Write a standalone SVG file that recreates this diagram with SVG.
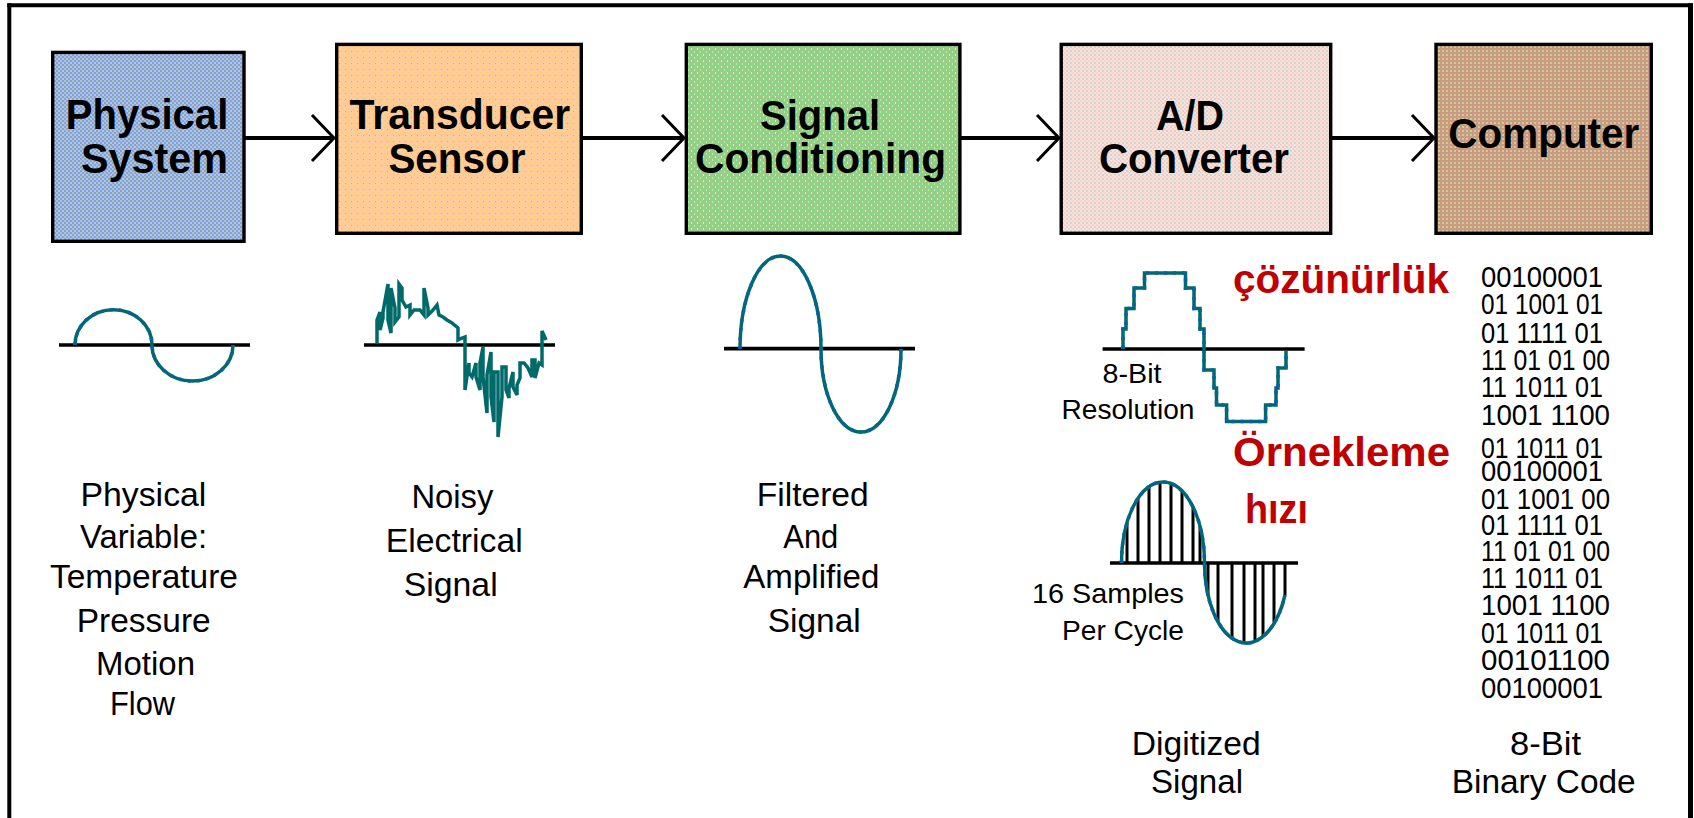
<svg xmlns="http://www.w3.org/2000/svg" width="1694" height="818" viewBox="0 0 1694 818">
<style>
.box{stroke:#000;stroke-width:3.4}
.bl{font-family:"Liberation Sans",Arial,sans-serif;font-weight:bold;font-size:43px;fill:#000}
.lb{font-family:"Liberation Sans",Arial,sans-serif;font-size:34px;fill:#000}
.sm{font-family:"Liberation Sans",Arial,sans-serif;font-size:28px;fill:#000}
.bin{font-family:"Liberation Sans",Arial,sans-serif;font-size:30px;fill:#000}
.red{font-family:"Liberation Sans",Arial,sans-serif;font-weight:bold;font-size:40px;fill:#c00000}
.ax{stroke:#000;stroke-width:3.7;fill:none}
.wave{fill:none;stroke:#006a6a;stroke-width:3.5}
.wave2{fill:none;stroke:#0a60a8;stroke-width:3.5;stroke-dasharray:3 6}
.samp{stroke:#000;stroke-width:3}
.conn{stroke:#000;stroke-width:4;fill:none}
.chev{stroke:#000;stroke-width:3;fill:none}
.frame{stroke:#000;fill:none}
</style>
<defs>
<pattern id="pPhys" width="4" height="4" patternUnits="userSpaceOnUse">
<rect width="4" height="4" fill="#9999cc"/><rect width="2" height="2" fill="#99cccc"/><rect x="2" y="2" width="2" height="2" fill="#99ccff"/>
</pattern>
<pattern id="pTrans" width="6" height="6" patternUnits="userSpaceOnUse">
<rect width="6" height="6" fill="#ffcc99"/><rect x="0" y="0" width="2" height="2" fill="#ffcc77"/><rect x="3" y="3" width="1" height="1" fill="#ff9966"/>
</pattern>
<pattern id="pSig" width="6" height="6" patternUnits="userSpaceOnUse">
<rect width="6" height="6" fill="#99cc88"/><rect x="1" y="0" width="1" height="2" fill="#ccff99"/><rect x="4" y="3" width="1" height="2" fill="#99ff99"/>
</pattern>
<pattern id="pAD" width="4" height="4" patternUnits="userSpaceOnUse">
<rect width="4" height="4" fill="#f2e6dc"/><rect width="2" height="2" fill="#ffcccc"/><rect x="2" y="2" width="2" height="2" fill="#d6d2cc"/>
</pattern>
<pattern id="pComp" width="4" height="4" patternUnits="userSpaceOnUse">
<rect width="4" height="4" fill="#cc9977"/><rect width="2" height="2" fill="#cc9999"/><rect x="2" y="2" width="2" height="2" fill="#cccc99"/>
</pattern>
</defs>
<rect width="1694" height="818" fill="#fff"/>
<g id="frame">
<line class="frame" x1="9.3" y1="3.3" x2="9.3" y2="818" stroke-width="4"/>
<line class="frame" x1="7.3" y1="5.3" x2="1693" y2="5.3" stroke-width="4"/>
<line class="frame" x1="1690.5" y1="3.3" x2="1690.5" y2="818" stroke-width="5"/>
</g>
<g id="connectors">
<line class="conn" x1="245" y1="138" x2="334" y2="138"/>
<polyline class="chev" points="312,115 334,138 312,161"/>
<line class="conn" x1="582" y1="138" x2="684" y2="138"/>
<polyline class="chev" points="662,115 684,138 662,161"/>
<line class="conn" x1="961" y1="138" x2="1059" y2="138"/>
<polyline class="chev" points="1037,115 1059,138 1037,161"/>
<line class="conn" x1="1332" y1="138" x2="1434" y2="138"/>
<polyline class="chev" points="1412,115 1434,138 1412,161"/>
</g>
<g id="node-physical">
<rect class="box" x="52.7" y="52.4" width="191.3" height="188.9" fill="url(#pPhys)"/>
<text class="bl" x="65.7" y="129.3" textLength="162.6" lengthAdjust="spacingAndGlyphs">Physical</text>
<text class="bl" x="81" y="172.7" textLength="147" lengthAdjust="spacingAndGlyphs">System</text>
</g>
<g id="node-transducer">
<rect class="box" x="336.7" y="44.4" width="244.6" height="188.9" fill="url(#pTrans)"/>
<text class="bl" x="349.6" y="129" textLength="220.5" lengthAdjust="spacingAndGlyphs">Transducer</text>
<text class="bl" x="388.4" y="173" textLength="137" lengthAdjust="spacingAndGlyphs">Sensor</text>
</g>
<g id="node-signal">
<rect class="box" x="686.3" y="44.4" width="273.6" height="188.9" fill="url(#pSig)"/>
<text class="bl" x="760" y="130" textLength="120" lengthAdjust="spacingAndGlyphs">Signal</text>
<text class="bl" x="695" y="173" textLength="251" lengthAdjust="spacingAndGlyphs">Conditioning</text>
</g>
<g id="node-ad">
<rect class="box" x="1061.2" y="44.4" width="269.5" height="188.9" fill="url(#pAD)"/>
<text class="bl" x="1156" y="130" textLength="68" lengthAdjust="spacingAndGlyphs">A/D</text>
<text class="bl" x="1099" y="173" textLength="190" lengthAdjust="spacingAndGlyphs">Converter</text>
</g>
<g id="node-computer">
<rect class="box" x="1436" y="44.4" width="215.3" height="188.9" fill="url(#pComp)"/>
<text class="bl" x="1448.3" y="147.7" textLength="191" lengthAdjust="spacingAndGlyphs">Computer</text>
</g>
<g id="wave-physical">
<line class="ax" x1="59" y1="345" x2="250" y2="345"/>
<path class="wave" d="M75,345 A38.5,35.3 0 0 1 152,345 A40.5,36 0 0 0 233,345"/>
<path class="wave2" d="M75,345 A38.5,35.3 0 0 1 152,345 A40.5,36 0 0 0 233,345"/>
<text class="lb" x="80.4" y="506" textLength="126" lengthAdjust="spacingAndGlyphs">Physical</text>
<text class="lb" x="80" y="548" textLength="127" lengthAdjust="spacingAndGlyphs">Variable:</text>
<text class="lb" x="50" y="588" textLength="188" lengthAdjust="spacingAndGlyphs">Temperature</text>
<text class="lb" x="76.7" y="632" textLength="134" lengthAdjust="spacingAndGlyphs">Pressure</text>
<text class="lb" x="96" y="675" textLength="99" lengthAdjust="spacingAndGlyphs">Motion</text>
<text class="lb" x="110" y="715" textLength="65" lengthAdjust="spacingAndGlyphs">Flow</text>
</g>
<g id="wave-noisy">
<line class="ax" x1="364" y1="345" x2="555" y2="345"/>
<path class="wave" stroke-width="3" d="M377,343 L377,320 L380,312 L380,330 L383,318 L383,312 L388,284 L388,320 L391,333 L391,288 L395,308 L395,322 L399,317 L399,284 L402,288 L402,300 L406,307 L410,305 L410,315 L414,310 L420,310 L424,315 L424,288 L428,308 L428,315 L433,310 L437,305 L439,315 L443,317 L447,320 L452,323 L458,328 L458,340 L462,338 L465,337 L465,390 L469,363 L469,373 L472,377 L476,363 L476,377 L480,390 L480,363 L483,347 L483,377 L487,413 L487,375 L491,352 L491,397 L494,422 L494,372 L498,372 L498,437 L502,397 L502,367 L506,367 L506,390 L509,398 L509,388 L513,372 L513,387 L517,395 L517,385 L520,378 L520,363 L524,363 L528,368 L532,377 L532,360 L535,360 L535,378 L539,363 L542,365 L542,331 L546,340"/>
<text class="lb" x="411.4" y="508" textLength="82" lengthAdjust="spacingAndGlyphs">Noisy</text>
<text class="lb" x="385.8" y="552" textLength="137" lengthAdjust="spacingAndGlyphs">Electrical</text>
<text class="lb" x="403.7" y="596" textLength="94" lengthAdjust="spacingAndGlyphs">Signal</text>
</g>
<g id="wave-filtered">
<line class="ax" x1="724" y1="348.7" x2="915" y2="348.7"/>
<path class="wave" d="M740,349 A40.5,93 0 0 1 821,349 A40,83 0 0 0 901,349"/>
<path class="wave2" d="M740,349 A40.5,93 0 0 1 821,349 A40,83 0 0 0 901,349"/>
<text class="lb" x="756.7" y="506" textLength="112" lengthAdjust="spacingAndGlyphs">Filtered</text>
<text class="lb" x="783.3" y="548" textLength="55" lengthAdjust="spacingAndGlyphs">And</text>
<text class="lb" x="743.3" y="588" textLength="136" lengthAdjust="spacingAndGlyphs">Amplified</text>
<text class="lb" x="767.7" y="632" textLength="93" lengthAdjust="spacingAndGlyphs">Signal</text>
</g>
<g id="wave-resolution">
<line class="ax" x1="1102.6" y1="349" x2="1304.6" y2="349"/>
<path class="wave" d="M1123,349 V329 H1126 V308.5 H1134 V288 H1144.5 V273 H1185.5 V288 H1194 V308.5 H1200 V329 H1204 V349 V370 H1214 V388 H1216.5 V405 H1226.6 V421.5 H1265.6 V405 H1276 V388 H1278 V368 H1286 V351"/>
<path class="wave2" d="M1123,349 V329 H1126 V308.5 H1134 V288 H1144.5 V273 H1185.5 V288 H1194 V308.5 H1200 V329 H1204 V349 V370 H1214 V388 H1216.5 V405 H1226.6 V421.5 H1265.6 V405 H1276 V388 H1278 V368 H1286 V351"/>
<text class="sm" x="1102.6" y="382.6" textLength="59" lengthAdjust="spacingAndGlyphs">8-Bit</text>
<text class="sm" x="1061.5" y="418.5" textLength="133" lengthAdjust="spacingAndGlyphs">Resolution</text>
</g>
<g id="wave-sampled">
<g class="samp">
<line x1="1127" y1="563" x2="1127" y2="523"/>
<line x1="1138" y1="563" x2="1138" y2="499"/>
<line x1="1149" y1="563" x2="1149" y2="487"/>
<line x1="1160" y1="563" x2="1160" y2="482"/>
<line x1="1171" y1="563" x2="1171" y2="483"/>
<line x1="1182" y1="563" x2="1182" y2="491"/>
<line x1="1193" y1="563" x2="1193" y2="506"/>
<line x1="1200" y1="563" x2="1200" y2="526"/>
<line x1="1208" y1="563" x2="1208" y2="596"/>
<line x1="1218" y1="563" x2="1218" y2="622"/>
<line x1="1232" y1="563" x2="1232" y2="638"/>
<line x1="1244" y1="563" x2="1244" y2="642"/>
<line x1="1255" y1="563" x2="1255" y2="641"/>
<line x1="1263" y1="563" x2="1263" y2="636"/>
<line x1="1274" y1="563" x2="1274" y2="622"/>
<line x1="1285" y1="563" x2="1285" y2="595"/>
</g>
<line class="ax" x1="1110" y1="563" x2="1298" y2="563"/>
<path class="wave" d="M1121.5,563 A41.5,81 0 0 1 1204.5,563 A42,80 0 0 0 1285,595"/>
<path class="wave2" d="M1121.5,563 A41.5,81 0 0 1 1204.5,563 A42,80 0 0 0 1285,595"/>
<text class="sm" x="1184" y="603" text-anchor="end" textLength="152" lengthAdjust="spacingAndGlyphs">16 Samples</text>
<text class="sm" x="1184" y="640" text-anchor="end" textLength="122" lengthAdjust="spacingAndGlyphs">Per Cycle</text>
<text class="lb" x="1131.7" y="755" textLength="129" lengthAdjust="spacingAndGlyphs">Digitized</text>
<text class="lb" x="1151" y="793" textLength="92" lengthAdjust="spacingAndGlyphs">Signal</text>
</g>
<g id="annotations">
<text class="red" x="1233" y="293" textLength="216" lengthAdjust="spacingAndGlyphs">çözünürlük</text>
<text class="red" x="1233" y="466" textLength="217" lengthAdjust="spacingAndGlyphs">Örnekleme</text>
<text class="red" x="1245" y="523" textLength="63" lengthAdjust="spacingAndGlyphs">hızı</text>
</g>
<g id="binary-code">
<text class="bin">
<tspan x="1481" y="287" textLength="122" lengthAdjust="spacingAndGlyphs">00100001</tspan>
<tspan x="1481" y="314" textLength="122" lengthAdjust="spacingAndGlyphs">01 1001 01</tspan>
<tspan x="1481" y="343" textLength="122" lengthAdjust="spacingAndGlyphs">01 1111 01</tspan>
<tspan x="1481" y="370" textLength="129" lengthAdjust="spacingAndGlyphs">11 01 01 00</tspan>
<tspan x="1481" y="397" textLength="122" lengthAdjust="spacingAndGlyphs">11 1011 01</tspan>
<tspan x="1481" y="425" textLength="129" lengthAdjust="spacingAndGlyphs">1001 1100</tspan>
<tspan x="1481" y="458" textLength="122" lengthAdjust="spacingAndGlyphs">01 1011 01</tspan>
<tspan x="1481" y="481" textLength="122" lengthAdjust="spacingAndGlyphs">00100001</tspan>
<tspan x="1481" y="508.5" textLength="129" lengthAdjust="spacingAndGlyphs">01 1001 00</tspan>
<tspan x="1481" y="535" textLength="122" lengthAdjust="spacingAndGlyphs">01 1111 01</tspan>
<tspan x="1481" y="561" textLength="129" lengthAdjust="spacingAndGlyphs">11 01 01 00</tspan>
<tspan x="1481" y="588" textLength="122" lengthAdjust="spacingAndGlyphs">11 1011 01</tspan>
<tspan x="1481" y="615" textLength="129" lengthAdjust="spacingAndGlyphs">1001 1100</tspan>
<tspan x="1481" y="643" textLength="122" lengthAdjust="spacingAndGlyphs">01 1011 01</tspan>
<tspan x="1481" y="670" textLength="129" lengthAdjust="spacingAndGlyphs">00101100</tspan>
<tspan x="1481" y="698" textLength="122" lengthAdjust="spacingAndGlyphs">00100001</tspan>
</text>
<text class="lb" x="1510" y="755" textLength="71" lengthAdjust="spacingAndGlyphs">8-Bit</text>
<text class="lb" x="1451.7" y="793" textLength="184" lengthAdjust="spacingAndGlyphs">Binary Code</text>
</g>
</svg>
